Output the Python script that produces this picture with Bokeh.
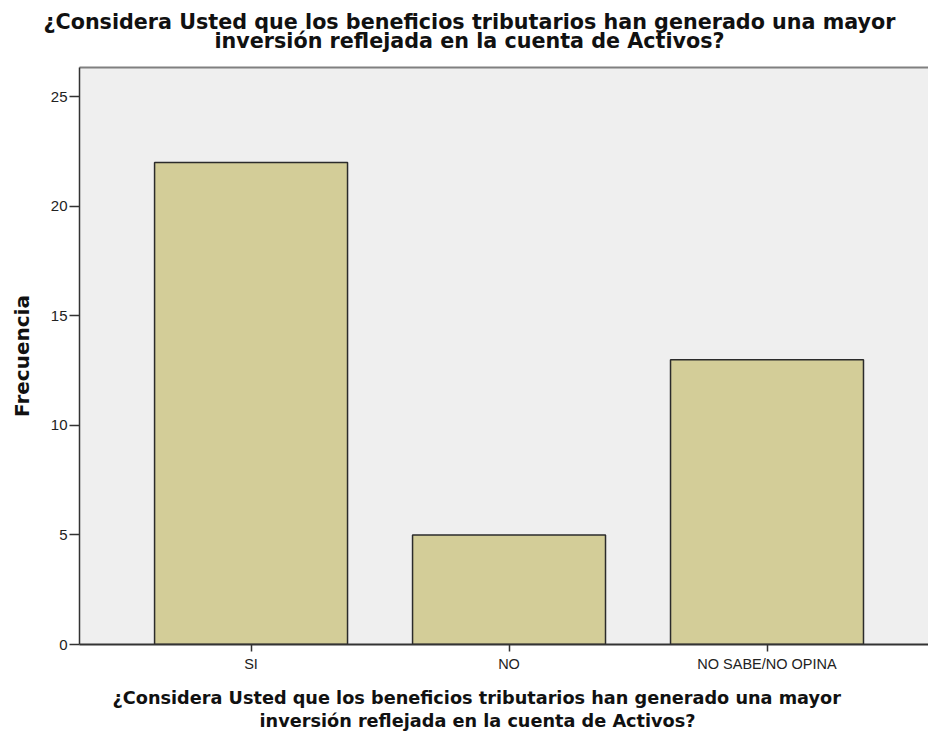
from bokeh.plotting import figure
from bokeh.models import Range1d, FixedTicker, Title, LinearAxis, ColumnDataSource
from bokeh.embed import file_html
from bokeh.resources import INLINE

categories = ["SI", "NO", "NO SABE/NO OPINA"]
counts = [22, 5, 13]
y_ticks = [0, 5, 10, 15, 20, 25]
title_lines = ["¿Considera Usted que los beneficios tributarios han generado una mayor",
               "inversión reflejada en la cuenta de Activos?"]
y_label = "Frecuencia"

positions = list(range(len(categories)))
source = ColumnDataSource(dict(x=positions, top=counts, cat=categories))

p = figure(width=928, height=735, output_backend="svg", toolbar_location=None, title=None,
           x_range=Range1d(-0.665, 2.626), y_range=Range1d(0, 26.34),
           min_border_left=79, min_border_right=0, min_border_top=67, min_border_bottom=91,
           background_fill_color="#EFEFEF", border_fill_color="white")
p.outline_line_color = None
p.xgrid.visible = False
p.ygrid.visible = False

p.vbar(x="x", top="top", width=0.748, bottom=0, source=source,
       fill_color="#D3CD98", line_color="#2b2b2b", line_width=1.5)

# x axis
xa = p.xaxis[0]
xa.ticker = FixedTicker(ticks=positions)
xa.major_label_overrides = {i: c for i, c in zip(positions, categories)}
xa.major_tick_in = 0
xa.major_tick_out = 7
xa.minor_tick_line_color = None
xa.axis_line_color = "#333333"
xa.axis_line_width = 2
xa.major_tick_line_color = "#333333"
xa.major_tick_line_width = 1.5
xa.major_label_text_font = "Liberation Sans"
xa.major_label_text_font_size = "14.5px"
xa.major_label_text_color = "#222222"
xa.major_label_standoff = 4

# y axis
ya = p.yaxis[0]
ya.ticker = FixedTicker(ticks=y_ticks)
ya.major_tick_in = 0
ya.major_tick_out = 10
ya.minor_tick_line_color = None
ya.axis_line_color = "#333333"
ya.axis_line_width = 1.5
ya.major_tick_line_color = "#333333"
ya.major_tick_line_width = 1.5
ya.major_label_text_font = "Liberation Sans"
ya.major_label_text_font_size = "15px"
ya.major_label_text_color = "#222222"
ya.major_label_standoff = 2
ya.axis_label = y_label
ya.axis_label_text_font = "DejaVu Sans"
ya.axis_label_text_font_style = "bold"
ya.axis_label_text_font_size = "20px"
ya.axis_label_text_color = "#111111"
ya.axis_label_standoff = 14

# top frame line
top_axis = LinearAxis(ticker=FixedTicker(ticks=[]), axis_line_color="#808080",
                      axis_line_width=2, major_tick_line_color=None,
                      minor_tick_line_color=None, major_label_text_font_size="0px")
p.add_layout(top_axis, "above")

# top title (line 2 first: closer to the frame)
p.add_layout(Title(text=title_lines[1], align="left", offset=135, standoff=30,
                   text_font="DejaVu Sans", text_font_style="bold",
                   text_font_size="20.7px", text_color="#111111"), "above")
p.add_layout(Title(text=title_lines[0], align="left", offset=-36, standoff=-44,
                   text_font="DejaVu Sans", text_font_style="bold",
                   text_font_size="20.7px", text_color="#111111"), "above")

# bottom title (x axis title)
p.add_layout(Title(text=title_lines[0], align="left", offset=33, standoff=22,
                   text_font="DejaVu Sans", text_font_style="bold",
                   text_font_size="17.7px", text_color="#111111"), "below")
p.add_layout(Title(text=title_lines[1], align="left", offset=180, standoff=-20,
                   text_font="DejaVu Sans", text_font_style="bold",
                   text_font_size="17.7px", text_color="#111111"), "below")

open("out.html", "w").write(file_html(p, INLINE))
